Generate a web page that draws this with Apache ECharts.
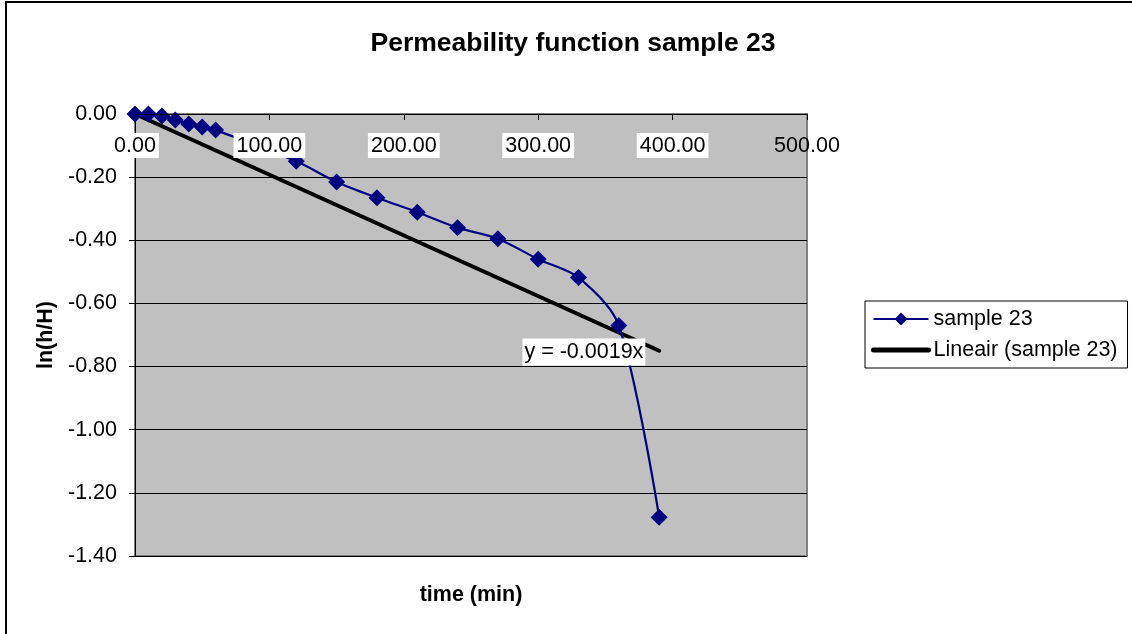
<!DOCTYPE html>
<html>
<head>
<meta charset="utf-8">
<script src="https://cdn.jsdelivr.net/npm/echarts@6/dist/echarts.min.js"></script>
<style>
  html, body { margin: 0; padding: 0; background: #fff; }
  #chart { width: 1132px; height: 634px; }
</style>
</head>
<body>
<div id="chart"></div>
<script>
  // measured points, sample 23
  const timeMin = [0, 10, 20, 30, 40, 50, 60, 120, 150, 180, 210, 240, 270, 300, 330, 360, 390]
  const lnRatio = [0, 0, -0.006, -0.019, -0.032, -0.041, -0.051, -0.15, -0.215, -0.265, -0.311, -0.36, -0.395, -0.46, -0.518, -0.67, -1.277]
  // trendline (Excel "Lineair") end points
  const trendX = [0, 390]
  const trendY = [0, -0.75]
  // equation label
  const eqText = 'y = -0.0019x'
  const eqPos = [334, -0.754]
  const xTicks = [0, 100, 200, 300, 400, 500]
  const yTicks = [0, -0.2, -0.4, -0.6, -0.8, -1.0, -1.2, -1.4]

  const font = '"Liberation Sans", Arial, sans-serif'
  const chart = echarts.init(document.getElementById('chart'))

  chart.setOption({
    animation: false,
    textStyle: { fontFamily: font },
    title: {
      text: 'Permeability function sample 23',
      left: 568,
      textAlign: 'center',
      top: 25,
      textStyle: { fontSize: 26.5, fontWeight: 'bold', color: '#000', fontFamily: font }
    },
    graphic: [{
      type: 'rect',
      shape: { x: 6, y: 2, width: 1200, height: 700 },
      style: { fill: 'none', stroke: '#000', lineWidth: 2 },
      silent: true
    }],
    legend: {
      orient: 'vertical',
      left: 865,
      top: 301,
      data: [
        { name: 'sample 23', lineStyle: { width: 2 } },
        { name: 'Lineair (sample 23)', itemStyle: { opacity: 0 }, lineStyle: { width: 5, cap: 'round' } }
      ],
      backgroundColor: '#fff',
      borderColor: '#000',
      borderWidth: 1,
      padding: [7, 10, 7, 6],
      itemWidth: 55,
      itemHeight: 16,
      itemGap: 9,
      textStyle: { fontSize: 21.5, color: '#000', fontFamily: font }
    },
    grid: {
      left: 135,
      right: 325,
      top: 114,
      bottom: 78,
      show: true,
      backgroundColor: '#c0c0c0',
      borderColor: '#808080',
      borderWidth: 2
    },
    xAxis: [{
      type: 'value',
      min: xTicks[0],
      max: xTicks[xTicks.length - 1],
      interval: 100,
      position: 'top',
      z: 5,
      axisLine: { onZero: false, lineStyle: { color: '#000', width: 1 } },
      axisTick: { show: true, inside: true, length: 6, lineStyle: { color: '#000' } },
      splitLine: { show: false },
      axisLabel: {
        inside: true,
        margin: 19,
        showMinLabel: true,
        showMaxLabel: true,
        formatter: v => (v === 500 ? '{n|' : '{w|') + v.toFixed(2) + '}',
        rich: {
          w: { fontSize: 21.5, color: '#000', backgroundColor: '#fff', padding: [2, 3, 1, 3], fontFamily: font },
          n: { fontSize: 21.5, color: '#000', padding: [2, 3, 1, 3], fontFamily: font }
        }
      }
    }, {
      type: 'value',
      min: xTicks[0],
      max: xTicks[xTicks.length - 1],
      position: 'bottom',
      name: 'time (min)',
      nameLocation: 'middle',
      nameGap: 28,
      nameTextStyle: { fontSize: 21.5, fontWeight: 'bold', color: '#000', fontFamily: font },
      axisLine: { show: false, onZero: false },
      axisTick: { show: false },
      axisLabel: { show: false },
      splitLine: { show: false }
    }],
    yAxis: {
      type: 'value',
      min: yTicks[yTicks.length - 1],
      max: yTicks[0],
      interval: 0.2,
      name: 'ln(h/H)',
      nameLocation: 'middle',
      nameRotate: 90,
      nameGap: 77,
      nameTextStyle: { fontSize: 21.5, fontWeight: 'bold', color: '#000', fontFamily: font },
      axisLine: { show: true, onZero: false, lineStyle: { color: '#000', width: 1 } },
      axisTick: { show: true, length: 6, lineStyle: { color: '#000' } },
      axisLabel: {
        margin: 18,
        fontSize: 21.5,
        color: '#000',
        formatter: v => v.toFixed(2)
      },
      splitLine: { show: true, lineStyle: { color: '#000', width: 1 } }
    },
    series: [
      {
        name: 'Lineair (sample 23)',
        type: 'line',
        z: 2,
        symbol: 'none',
        lineStyle: { color: '#000', width: 4, cap: 'round' },
        itemStyle: { color: '#000' },
        data: trendX.map((x, i) => [x, trendY[i]])
      },
      {
        name: 'sample 23',
        type: 'line',
        z: 3,
        smooth: 0.3,
        symbol: 'diamond',
        symbolSize: 17,
        lineStyle: { color: '#000080', width: 2.2 },
        itemStyle: { color: '#000080' },
        data: timeMin.map((t, i) => [t, lnRatio[i]])
      },
      {
        name: 'eq',
        type: 'scatter',
        z: 10,
        silent: true,
        symbolSize: 0,
        itemStyle: { opacity: 1 },
        data: [eqPos],
        label: {
          show: true,
          position: 'inside',
          formatter: eqText,
          fontSize: 21.5,
          color: '#000',
          backgroundColor: '#fff',
          opacity: 1,
          padding: [3, 2, 2, 2],
          fontFamily: font
        }
      }
    ]
  })
</script>
</body>
</html>
